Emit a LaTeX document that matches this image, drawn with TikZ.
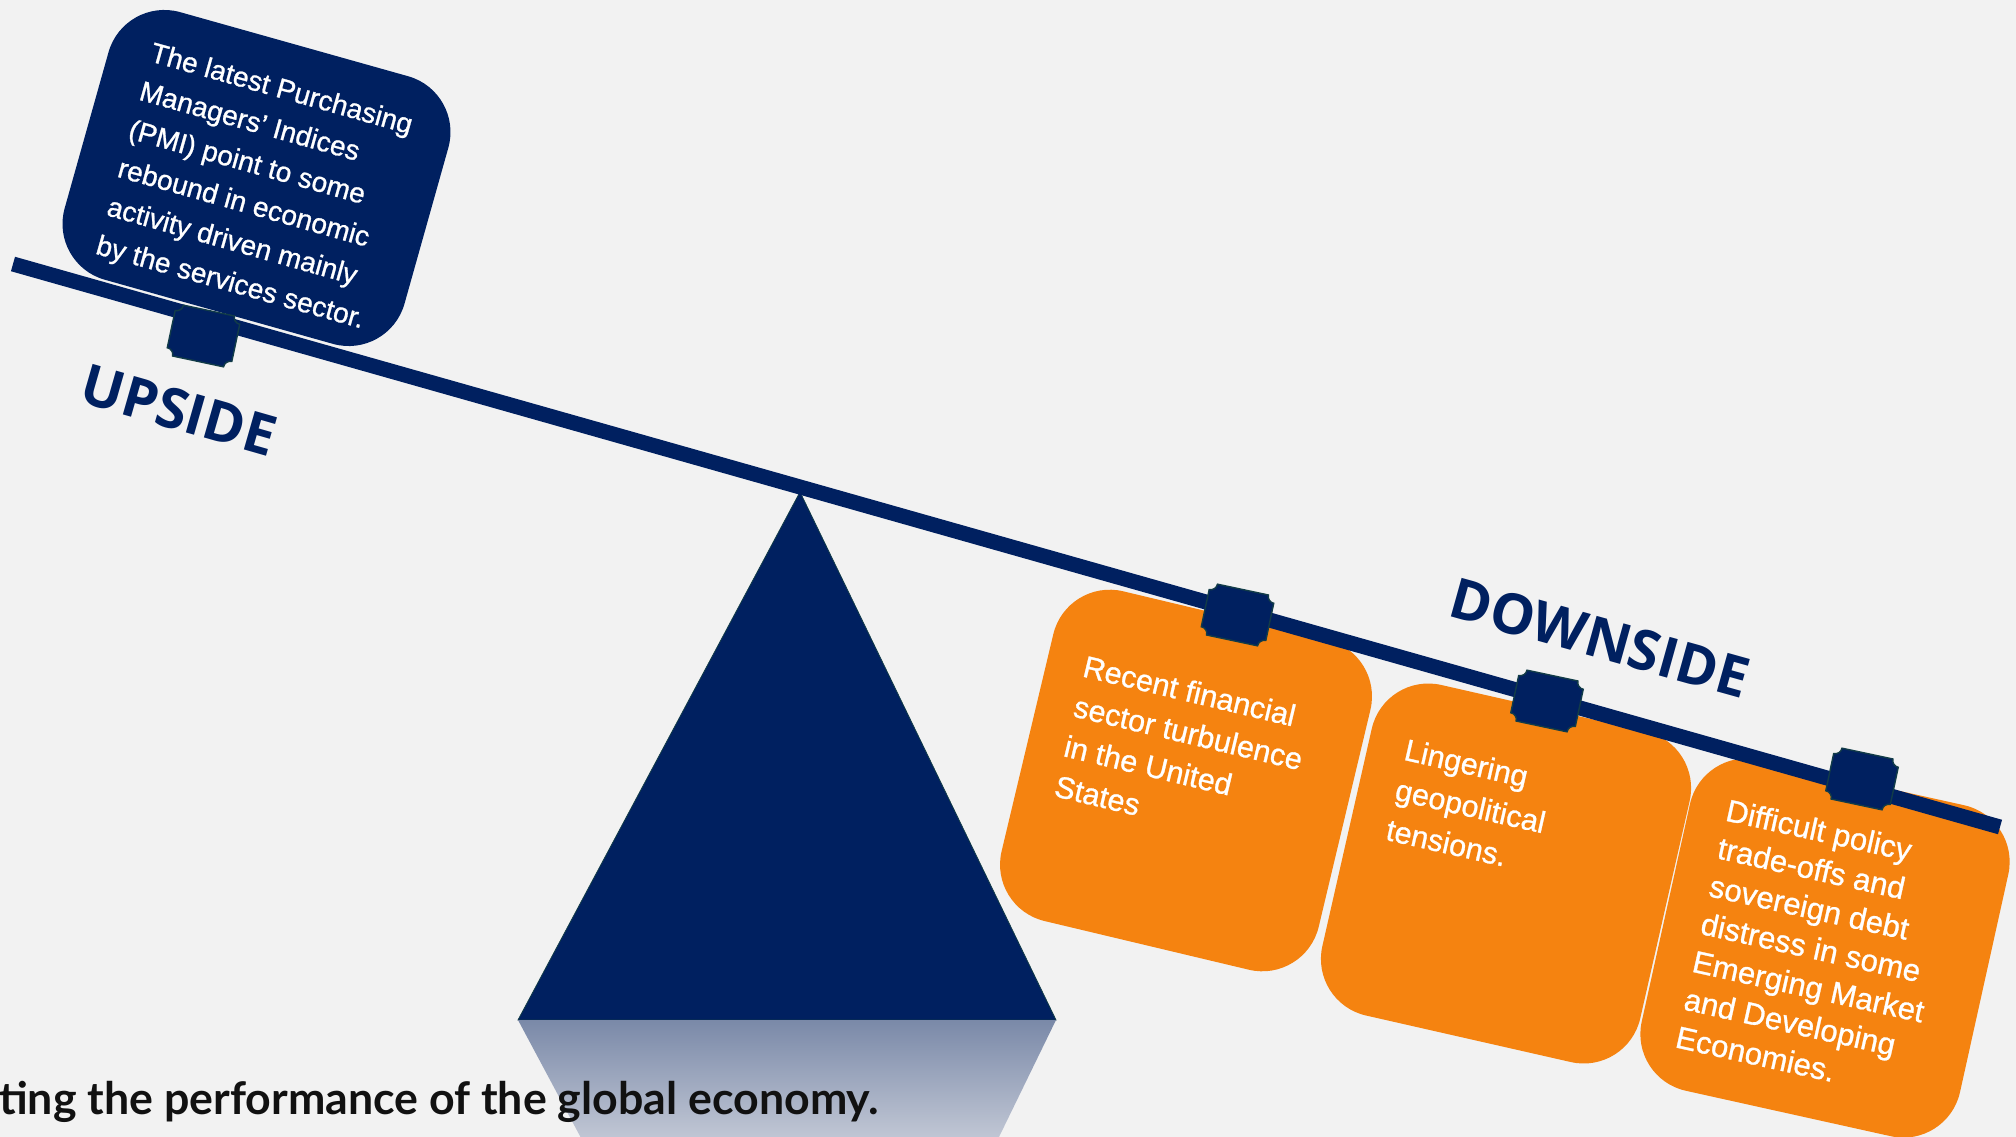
\documentclass[tikz,border=0pt]{standalone}
\usepackage{fontspec}
\setmainfont{Liberation Sans}
\newfontfamily\cardfont[FakeBold=0.9]{Liberation Sans}
\newfontfamily\headfont{Open Sans}
\newfontfamily\notefont{Lato}
\definecolor{navy}{RGB}{0,32,96}
\definecolor{amber}{RGB}{245,131,16}
\definecolor{paper}{RGB}{242,242,242}
\definecolor{hookline}{RGB}{18,60,72}
\tikzset{
  plate/.style={rounded corners=58pt, inner sep=0pt, minimum width=326pt, minimum height=339pt},
  upplate/.style={plate, fill=navy, minimum width=353pt, minimum height=278pt},
  downplate/.style={plate, fill=amber},
  platetext/.style={text=white, align=left, inner sep=0pt, anchor=north west},
  sidelabel/.style={text=navy, inner sep=0pt, font=\headfont\bfseries\fontsize{56}{60}\selectfont},
  beamline/.style={navy, line width=15pt},
  hook/.pic={
    \path[fill=navy, draw=hookline, line width=1.4pt]
      (-26,-26) -- (26,-26) .. controls (26,-22.1) and (29.1,-19) .. (33,-19)
      -- (33,19) .. controls (29.1,19) and (26,22.1) .. (26,26)
      -- (-26,26) .. controls (-26,22.1) and (-29.1,19) .. (-33,19)
      -- (-33,-19) .. controls (-29.1,-19) and (-26,-22.1) .. (-26,-26) -- cycle;
  }
}
\begin{document}
\begin{tikzpicture}[x=1pt, y=-1pt]
        \useasboundingbox (0,0) rectangle (2016,1137);
        \fill[paper] (0,0) rectangle (2016,1137);

        % fulcrum and its reflection
        \coordinate (apex) at (800,492);
        \coordinate (baseL) at (518,1020);
        \coordinate (baseR) at (1056,1020);
        \coordinate (shadeL) at (580.5,1137);
        \coordinate (shadeR) at (999,1137);
        \fill[navy, draw=hookline, line width=0.8pt] (apex) -- (baseR) -- (baseL) -- cycle;
        \shade[top color={rgb,255:red,122;green,137;blue,168}, bottom color={rgb,255:red,192;green,198;blue,212}]
            (baseL) -- (baseR) -- (shadeR) -- (shadeL) -- cycle;

        \node[anchor=base west, inner sep=0pt, text={rgb,255:red,17;green,17;blue,17},
              font=\notefont\bfseries\fontsize{44.7}{50}\selectfont] (tagline) at (-1,1114)
            {ting the performance of the global economy.};

        % downside cards
        \begin{scope}[shift={(1186,780.5)}, rotate=-13.4, transform shape]
            \node[downplate] (cardA) at (0,0) {};
            \node[platetext, font=\cardfont\fontsize{30.5}{41}\selectfont] (textA) at (-126,-99.5)
                {Recent financial\\ sector turbulence\\ in the United\\ States};
        \end{scope}
        \begin{scope}[shift={(1506,873.5)}, rotate=-12.8, transform shape]
            \node[downplate] (cardB) at (0,0) {};
            \node[platetext, font=\cardfont\fontsize{30.5}{41}\selectfont] (textB) at (-126,-110.5)
                {Lingering\\ geopolitical\\ tensions.};
        \end{scope}
        \begin{scope}[shift={(1825,948)}, rotate=-12.5, transform shape]
            \node[downplate] (cardC) at (0,0) {};
            \node[platetext, font=\cardfont\fontsize{31}{38.7}\selectfont] (textC) at (-126,-125.5)
                {Difficult policy\\ trade-offs and\\ sovereign debt\\ distress in some\\ Emerging Market\\ and Developing\\ Economies.};
        \end{scope}

        % beam
        \coordinate (beamL) at (13,264);
        \coordinate (beamR) at (2000,827);
        \draw[beamline] (beamL) -- (beamR);

        % upside card
        \begin{scope}[shift={(256.5,178)}, rotate=-15.7, transform shape]
            \node[upplate] (cardU) at (0,0) {};
            \node[platetext, font=\cardfont\fontsize{28}{40}\selectfont] (textU) at (-135.5,-104)
                {The latest Purchasing\\ Managers’ Indices\\ (PMI) point to some\\ rebound in economic\\ activity driven mainly\\ by the services sector.};
        \end{scope}

        % hooks
        \pic[rotate=-12] (hookU) at (203.5,336) {hook};
        \pic[rotate=-12] (hookA) at (1237.5,615) {hook};
        \pic[rotate=-12] (hookB) at (1547,701) {hook};
        \pic[rotate=-12] (hookC) at (1862,779) {hook};

        % labels
        \node[sidelabel, rotate=-16] (upside) at (179,410) {UPSIDE};
        \node[sidelabel, rotate=-15.6] (downside) at (1600,638) {DOWNSIDE};
\end{tikzpicture}
\end{document}
